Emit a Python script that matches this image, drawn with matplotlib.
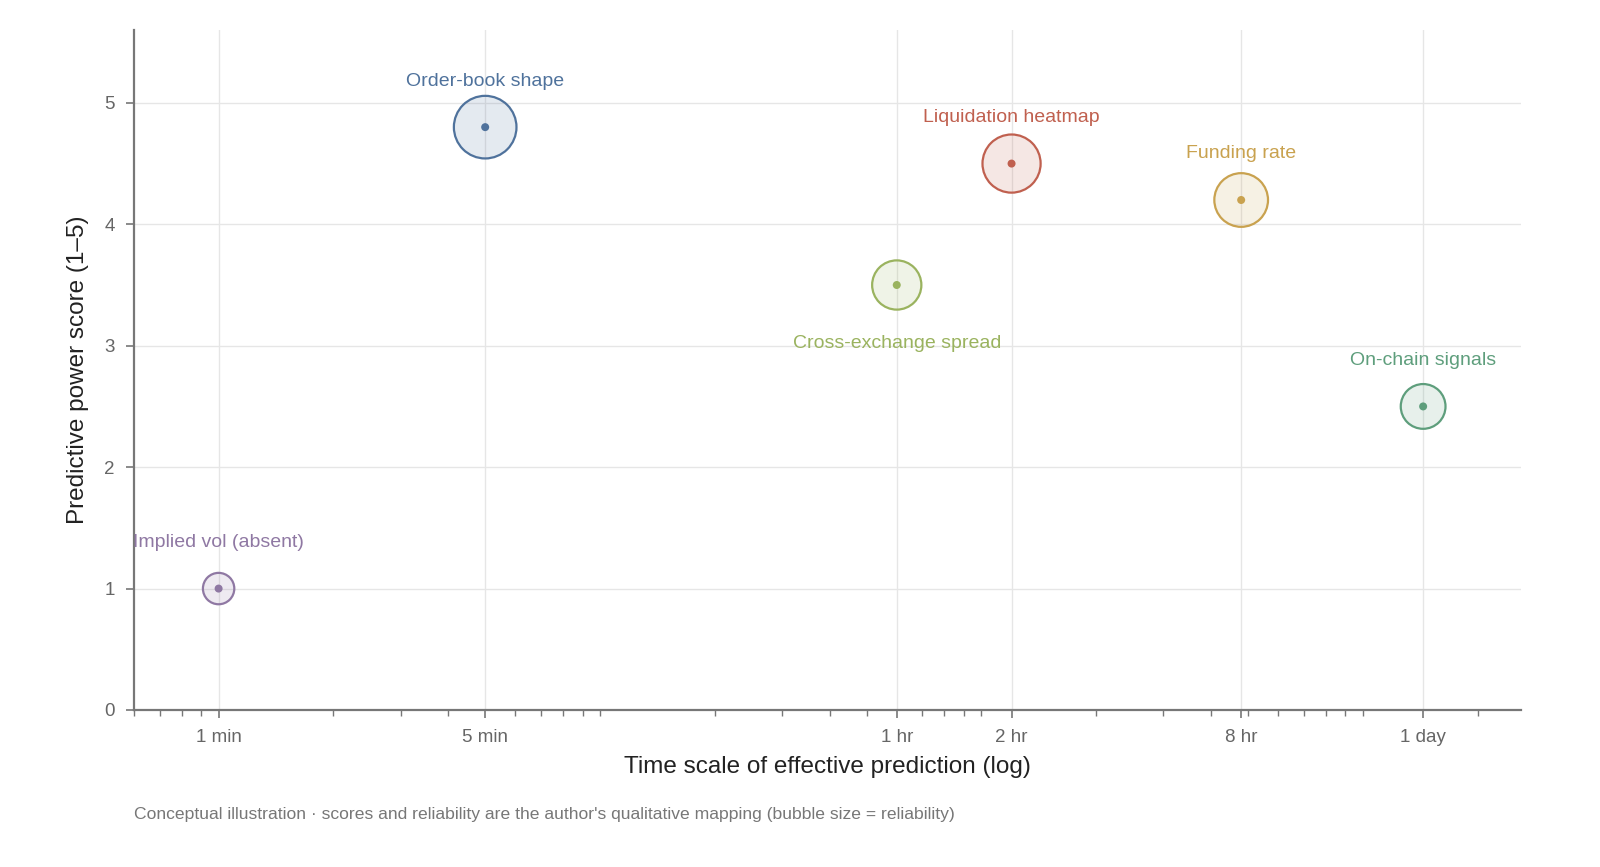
import matplotlib
matplotlib.use("Agg")
import matplotlib.pyplot as plt
from matplotlib.ticker import LogLocator, FixedLocator, FixedFormatter, NullFormatter

plt.rcParams['font.family'] = ['Liberation Sans', 'DejaVu Sans']

# ---- data ----
names = ["Implied vol (absent)", "Order-book shape", "Cross-exchange spread",
         "Liquidation heatmap", "Funding rate", "On-chain signals"]
timescale_min = [1, 5, 60, 120, 480, 1440]
score = [1.0, 4.8, 3.5, 4.5, 4.2, 2.5]
reliability = [1.5, 5.0, 3.5, 4.5, 4.0, 3.0]
colors = ["#8f78a3", "#4f729c", "#9ab35f", "#c0604f", "#c9a24f", "#5e9e7c"]
label_below = [False, False, True, False, False, False]

xtick_vals = [1, 5, 60, 120, 480, 1440]
xtick_labels = ["1 min", "5 min", "1 hr", "2 hr", "8 hr", "1 day"]
ytick_vals = [0, 1, 2, 3, 4, 5]

DPI = 100
fig = plt.figure(figsize=(16, 8.67), dpi=DPI)
ax = fig.add_axes([134/1600, 1-710/867, (1521-134)/1600, (710-30)/867])
ax.set_xscale("log")
ax.set_xlim(0.6, 2600)
ax.set_ylim(0, 5.6)

px2pt = 72.0 / DPI
for x, y, r, c, nm, below in zip(timescale_min, score, reliability, colors, names, label_below):
    rad_px = 9.0 + 4.46 * r
    s = (2 * rad_px * px2pt) ** 2
    ax.scatter([x], [y], s=s, facecolor=c, alpha=0.15, edgecolor="none", zorder=3)
    ax.scatter([x], [y], s=s, facecolor="none", edgecolor=c, linewidth=1.6, zorder=4)
    ax.scatter([x], [y], s=(8 * px2pt) ** 2, color=c, edgecolor="none", zorder=5)
    off = -58 * px2pt if below else 46 * px2pt
    ax.annotate(nm, (x, y), xytext=(0, off), textcoords="offset points",
                ha="center", va="center", fontsize=14, color=c, zorder=6)

# ticks
ax.xaxis.set_major_locator(FixedLocator(xtick_vals))
ax.xaxis.set_major_formatter(FixedFormatter(xtick_labels))
ax.xaxis.set_minor_locator(LogLocator(base=10, subs=range(1, 10), numticks=30))
ax.xaxis.set_minor_formatter(NullFormatter())
ax.set_yticks(ytick_vals)

ax.tick_params(axis="both", which="major", colors="#777777", labelcolor="#666666",
               labelsize=13.5, length=6, width=1.2, pad=8)
ax.tick_params(axis="x", which="minor", colors="#777777", length=4, width=1.0)

ax.grid(True, which="major", color="#e6e6e6", linewidth=1.0, zorder=0)
ax.grid(False, which="minor")
ax.set_axisbelow(True)

for sp in ["top", "right"]:
    ax.spines[sp].set_visible(False)
for sp in ["left", "bottom"]:
    ax.spines[sp].set_color("#777777")
    ax.spines[sp].set_linewidth(1.6)

ax.set_xlabel("Time scale of effective prediction (log)", fontsize=17.5, color="#222222", labelpad=7)
ax.set_ylabel("Predictive power score (1–5)", fontsize=17.5, color="#222222", labelpad=11)

fig.text(134/1600, 1-814/867, "Conceptual illustration · scores and reliability are the author's qualitative mapping (bubble size = reliability)",
         fontsize=12.6, color="#777777", ha="left", va="center")

fig.savefig("out.png", dpi=DPI, facecolor="white")
